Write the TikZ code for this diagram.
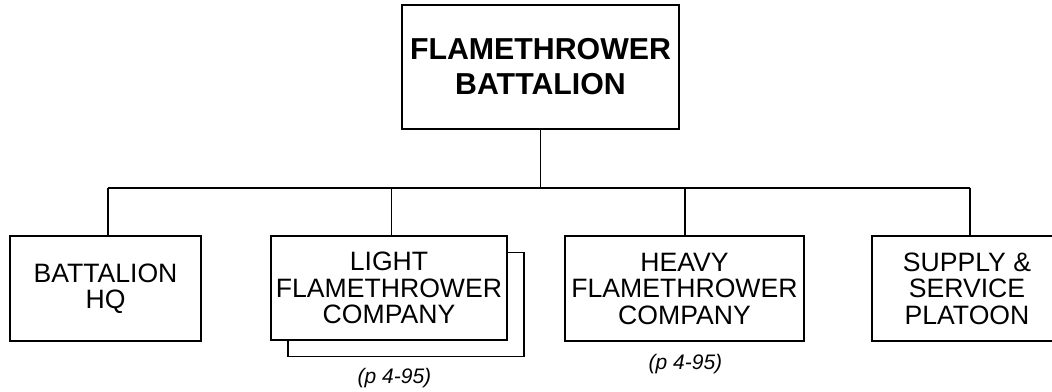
\documentclass[tikz,border=0pt]{standalone}
\usepackage{fontspec}
\setmainfont{Liberation Sans}
\begin{document}
\begin{tikzpicture}[x=1pt,y=-1pt,
  unit/.style={draw=black, line width=1.5pt, fill=white, align=center, inner sep=0pt,
    font=\fontsize{26.6}{26.5}\selectfont},
  hqbox/.style={unit, font=\fontsize{30.3}{35}\selectfont\bfseries},
  pageref/.style={font=\fontsize{21}{24}\selectfont\itshape, inner sep=0pt},
  link/.style={draw=black, line width=1.5pt}]
\clip (0,0) rectangle (1052,391);
\fill[white] (0,0) rectangle (1052,391);
% top unit
\node[hqbox, minimum width=277pt, minimum height=124pt] (top) at (540.5,67) {FLAMETHROWER\\BATTALION};
% subordinate units
\node[unit, minimum width=191pt, minimum height=105pt] (hq) at (105.5,288.5) {BATTALION\\HQ};
\node[unit, minimum width=236pt, minimum height=104pt] (lightback) at (406,304.5) {};
\node[unit, minimum width=236pt, minimum height=104pt] (light) at (389,288) {LIGHT\\FLAMETHROWER\\COMPANY};
\node[unit, minimum width=239pt, minimum height=105pt] (heavy) at (684.5,288.5) {HEAVY\\FLAMETHROWER\\COMPANY};
\node[unit, minimum width=190pt, minimum height=105pt] (supply) at (967,288.5) {SUPPLY \&\\SERVICE\\PLATOON};
% page references
\node[pageref] (lightref) at (394.5,378) {(p 4-95)};
\node[pageref] (heavyref) at (685.5,364) {(p 4-95)};
% connectors
\coordinate (b1) at (108,188);
\coordinate (b2) at (391.5,188);
\coordinate (b3) at (685,188);
\coordinate (b4) at (970,188);
\draw[link] (top.south) -- (top.south |- b1);
\draw[link] (b1) -- (b4);
\draw[link] (b1) -- (b1 |- hq.north);
\draw[link] (b2) -- (b2 |- light.north);
\draw[link] (b3) -- (b3 |- heavy.north);
\draw[link] (b4) -- (b4 |- supply.north);
\end{tikzpicture}
\end{document}
